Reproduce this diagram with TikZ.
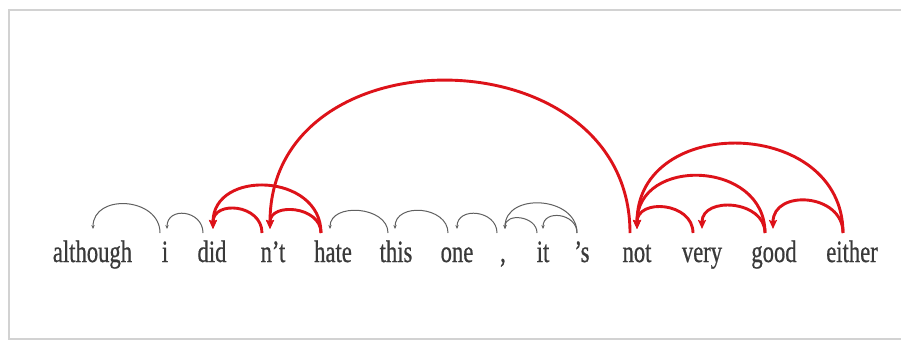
\documentclass[tikz,border=0pt]{standalone}
\usepackage{fontspec}
\setmainfont{Liberation Serif}
\usepackage{graphicx}
\usetikzlibrary{arrows.meta}
\definecolor{arcred}{HTML}{DD1219}
\definecolor{arcgrey}{HTML}{606060}
\definecolor{wordgrey}{HTML}{3A3A3A}
\definecolor{framegrey}{HTML}{D2D2D2}
\newcommand{\wtext}[1]{\scalebox{0.73}[1]{#1}}
\tikzset{
  word/.style={anchor=base, inner sep=0pt, text=wordgrey, font=\fontsize{31}{31}\selectfont\addfontfeatures{FakeBold=0.8}},
  greyarc/.style={draw=arcgrey, line width=1pt, -{Stealth[length=4pt,width=3.4pt]}},
  redarc/.style={draw=arcred, line width=2.9pt, -{Stealth[length=9pt,width=8pt,inset=1.5pt]}},
  frame/.style={draw=framegrey, line width=2pt}
}
\begin{document}
\begin{tikzpicture}[x=1pt,y=1pt]
\useasboundingbox (0,0) rectangle (901,341);
\fill[white] (0,0) rectangle (901,341);
\draw[frame] (903,331) -- (9,331) -- (9,2) -- (903,2);

% words
\node[word] (although) at (92.5,79) {\wtext{although}};
\node[word] (i)        at (165,79)  {\wtext{i}};
\node[word] (did)      at (212,79)  {\wtext{did}};
\node[word] (nt)       at (273,79)  {\wtext{n’t}};
\node[word] (hate)     at (333,79)  {\wtext{hate}};
\node[word] (this)     at (396,79)  {\wtext{this}};
\node[word] (one)      at (457,79)  {\wtext{one}};
\node[word] (comma)    at (503,79)  {\wtext{,}};
\node[word] (it)       at (543,79)  {\wtext{it}};
\node[word] (s)        at (582,79)  {\wtext{’s}};
\node[word] (not)      at (637,79)  {\wtext{not}};
\node[word] (very)     at (702,79)  {\wtext{very}};
\node[word] (good)     at (774,79)  {\wtext{good}};
\node[word] (either)   at (852,79)  {\wtext{either}};

% arc end points (h = arrow end, t = start)
\coordinate (although-h) at (93,112);
\coordinate (i-h)     at (167,112);
\coordinate (i-t)     at (160,108);
\coordinate (did-h)   at (213,112);
\coordinate (did-t)   at (203,108);
\coordinate (nt-h)    at (270,112);
\coordinate (nt-t)    at (262,108);
\coordinate (hate-h)  at (330,112);
\coordinate (hate-t)  at (321,108);
\coordinate (this-h)  at (395,112);
\coordinate (this-t)  at (388,108);
\coordinate (one-h)   at (457,112);
\coordinate (one-t)   at (448,108);
\coordinate (comma-h) at (505,112);
\coordinate (comma-t) at (497,108);
\coordinate (it-h)    at (543,112);
\coordinate (it-t)    at (537,108);
\coordinate (s-t)     at (577,108);
\coordinate (not-h)   at (637,112);
\coordinate (not-t)   at (630,108);
\coordinate (very-h)  at (702,112);
\coordinate (very-t)  at (693,108);
\coordinate (good-h)  at (773,112);
\coordinate (good-t)  at (765,108);
\coordinate (either-t) at (843,108);

% grey arcs
\draw[greyarc] (i-t)     to[out=90,in=90,distance=36] (although-h);
\draw[greyarc] (did-t)   to[out=90,in=90,distance=23] (i-h);
\draw[greyarc] (this-t)  to[out=90,in=90,distance=27] (hate-h);
\draw[greyarc] (one-t)   to[out=90,in=90,distance=27] (this-h);
\draw[greyarc] (comma-t) to[out=90,in=90,distance=23] (one-h);
\draw[greyarc] (s-t)     to[out=90,in=90,distance=37] (comma-h);
\draw[greyarc] (it-t)    to[out=90,in=90,distance=17] (comma-h);
\draw[greyarc] (s-t)     to[out=90,in=90,distance=20] (it-h);

% red arcs
\draw[redarc] (nt-t)     to[out=90,in=90,distance=29]  (did-h);
\draw[redarc] (hate-t)   to[out=90,in=90,distance=60]  (did-h);
\draw[redarc] (hate-t)   to[out=90,in=90,distance=27]  (nt-h);
\draw[redarc] (not-t)    to[out=90,in=90,distance=200] (nt-h);
\draw[redarc] (very-t)   to[out=90,in=90,distance=31]  (not-h);
\draw[redarc] (good-t)   to[out=90,in=90,distance=33]  (very-h);
\draw[redarc] (good-t)   to[out=90,in=90,distance=73]  (not-h);
\draw[redarc] (either-t) to[out=90,in=90,distance=40]  (good-h);
\draw[redarc] (either-t) to[out=90,in=90,distance=116] (not-h);
\end{tikzpicture}
\end{document}
